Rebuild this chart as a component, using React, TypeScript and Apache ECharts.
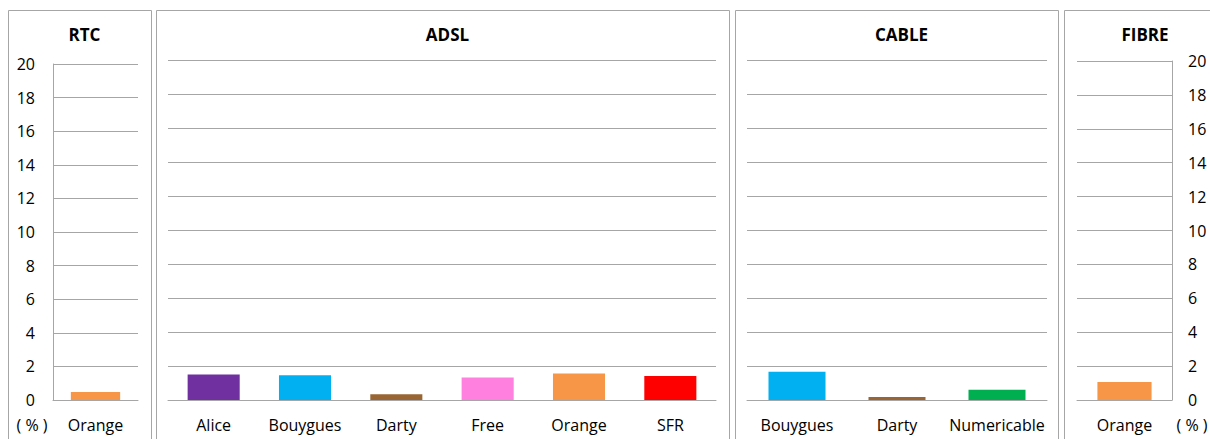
import React, { useEffect, useRef } from "react";
import * as echarts from "echarts";

const panelTitles = ["RTC", "ADSL", "CABLE", "FIBRE"];

const rtcCategories = ["Orange"];
const rtcValues = [0.48];

const adslCategories = ["Alice", "Bouygues", "Darty", "Free", "Orange", "SFR"];
const adslValues = [1.5, 1.45, 0.34, 1.33, 1.56, 1.41];

const cableCategories = ["Bouygues", "Darty", "Numericable"];
const cableValues = [1.66, 0.18, 0.61];

const fibreCategories = ["Orange"];
const fibreValues = [1.06];

const yMin = 0;
const yMax = 20;
const yStep = 2;
const unitLabel = "( % )";

const providerColors: Record<string, string> = {
  Alice: "#7030A0",
  Bouygues: "#00B0F0",
  Darty: "#996633",
  Free: "#FF80DF",
  Orange: "#F79646",
  SFR: "#FF0000",
  Numericable: "#00B050",
};

const FONT = "'Open Sans', 'DejaVu Sans', sans-serif";
const GRAY = "#a6a6a6";

export default function App() {
  const ref = useRef<HTMLDivElement>(null);

  useEffect(() => {
    if (!ref.current) return;
    const chart = echarts.init(ref.current, undefined, { renderer: "svg" });

    const panels = [
      { cats: rtcCategories, vals: rtcValues, grid: { left: 53, width: 85, top: 64, bottom: 39 }, box: [8, 151], yPos: "left", showY: true },
      { cats: adslCategories, vals: adslValues, grid: { left: 168, width: 548, top: 60, bottom: 39 }, box: [156, 729], yPos: "left", showY: false },
      { cats: cableCategories, vals: cableValues, grid: { left: 747, width: 300, top: 60, bottom: 39 }, box: [735, 1058], yPos: "left", showY: false },
      { cats: fibreCategories, vals: fibreValues, grid: { left: 1077, width: 95, top: 61, bottom: 39 }, box: [1064, 1216], yPos: "right", showY: true },
    ];

    const option: any = {
      animation: false,
      backgroundColor: "#ffffff",
      textStyle: { fontFamily: FONT },
      title: panels.map((p, i) => ({
        text: panelTitles[i],
        left: (p.box[0] + p.box[1]) / 2,
        top: 21,
        textAlign: "center",
        textStyle: { fontFamily: FONT, fontSize: 17, fontWeight: "bold", color: "#000" },
      })),
      grid: panels.map((p) => ({ ...p.grid, containLabel: false })),
      xAxis: panels.map((p, i) => ({
        type: "category",
        gridIndex: i,
        data: p.cats,
        axisLine: { show: true, lineStyle: { color: GRAY, width: 1 } },
        axisTick: { show: false },
        axisLabel: { color: "#000", fontFamily: FONT, fontSize: 16, margin: 15, lineHeight: 20, interval: 0 },
        splitLine: { show: false },
      })),
      yAxis: panels.map((p, i) => ({
        type: "value",
        gridIndex: i,
        position: p.yPos,
        min: yMin,
        max: yMax,
        interval: yStep,
        axisLine: { show: p.showY, lineStyle: { color: GRAY, width: 1 } },
        axisTick: { show: false },
        axisLabel: {
          show: p.showY,
          color: "#000",
          fontFamily: FONT,
          fontSize: 16,
          margin: p.yPos === "left" ? 18 : 16,
        },
        splitLine: { show: true, lineStyle: { color: GRAY, width: 1 } },
      })),
      series: panels.map((p, i) => ({
        type: "bar",
        xAxisIndex: i,
        yAxisIndex: i,
        barWidth: i === 0 ? "58%" : "57%",
        data: p.vals.map((v, j) => ({ value: v, itemStyle: { color: providerColors[p.cats[j]] } })),
      })),
      graphic: [
        ...panels.map((p) => ({
          type: "rect",
          shape: { x: p.box[0] + 0.5, y: 10.5, width: p.box[1] - p.box[0], height: 460 },
          style: { fill: "none", stroke: GRAY, lineWidth: 1 },
          silent: true,
          z: -1,
        })),
        {
          type: "text",
          x: 32,
          y: 425,
          style: { text: unitLabel, fontFamily: FONT, fontSize: 16, fill: "#000", align: "center", verticalAlign: "middle" },
        },
        {
          type: "text",
          x: 1192,
          y: 425,
          style: { text: unitLabel, fontFamily: FONT, fontSize: 16, fill: "#000", align: "center", verticalAlign: "middle" },
        },
      ],
    };

    chart.setOption(option);
    return () => chart.dispose();
  }, []);

  return (
    <div
      ref={ref}
      style={{ position: "absolute", left: 0, top: 0, width: 1210, height: 439 }}
    />
  );
}
